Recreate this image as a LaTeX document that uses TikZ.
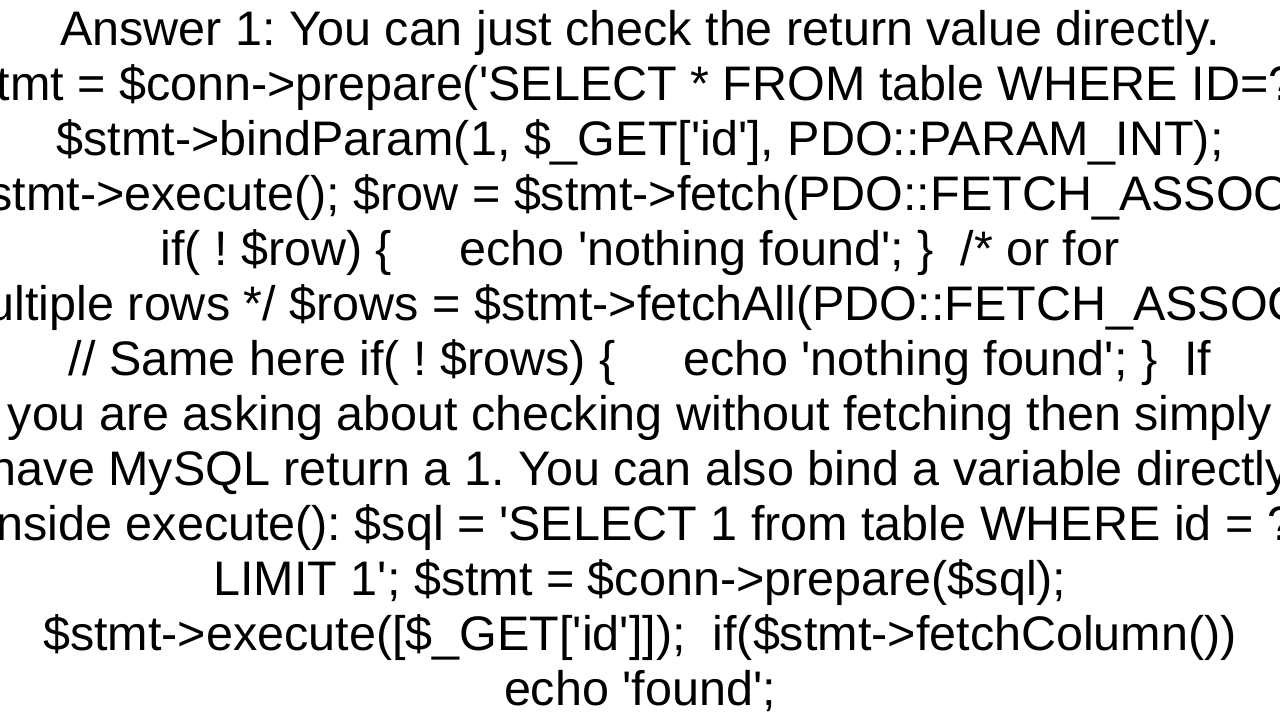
\documentclass[tikz,border=0pt]{standalone}
\usepackage{fontspec}
\newfontfamily\arial{Liberation Sans}
\begin{document}
\frenchspacing
\begin{tikzpicture}[x=1pt,y=1pt,line/.style={anchor=base,inner sep=0pt,font=\arial\fontsize{48.5}{55}\selectfont}]
\useasboundingbox (0,0) rectangle (1280,720);
\clip (0,0) rectangle (1280,720);
\fill[white] (0,0) rectangle (1280,720);
\node[line] (l1) at (640,720-46) {Answer 1: You can just check the return value directly.};
\node[line] (l2) at (640,720-101) {\$stmt = \$conn->prepare('SELECT * FROM table WHERE ID=?');};
\node[line] (l3) at (640,720-156) {\$stmt->bindParam(1, \$\_GET['id'], PDO::PARAM\_INT);};
\node[line] (l4) at (640,720-211) {\$stmt->execute(); \$row = \$stmt->fetch(PDO::FETCH\_ASSOC);};
\node[line] (l5) at (640,720-266) {if( ! \$row) \{\ \ \ \ \ echo 'nothing found'; \}\ \ /* or for};
\node[line] (l6) at (640,720-321) {multiple rows */ \$rows = \$stmt->fetchAll(PDO::FETCH\_ASSOC);};
\node[line] (l7) at (640,720-376) {// Same here if( ! \$rows) \{\ \ \ \ \ echo 'nothing found'; \}\ \ If};
\node[line] (l8) at (640,720-431) {you are asking about checking without fetching then simply};
\node[line] (l9) at (640,720-486) {have MySQL return a 1. You can also bind a variable directly};
\node[line] (l10) at (640,720-541) {inside execute(): \$sql = 'SELECT 1 from table WHERE id = ?};
\node[line] (l11) at (640,720-596) {LIMIT 1'; \$stmt = \$conn->prepare(\$sql);};
\node[line] (l12) at (640,720-651) {\$stmt->execute([\$\_GET['id']]);\ \ if(\$stmt->fetchColumn())};
\node[line] (l13) at (640,720-706) {echo 'found';};
\end{tikzpicture}
\end{document}
